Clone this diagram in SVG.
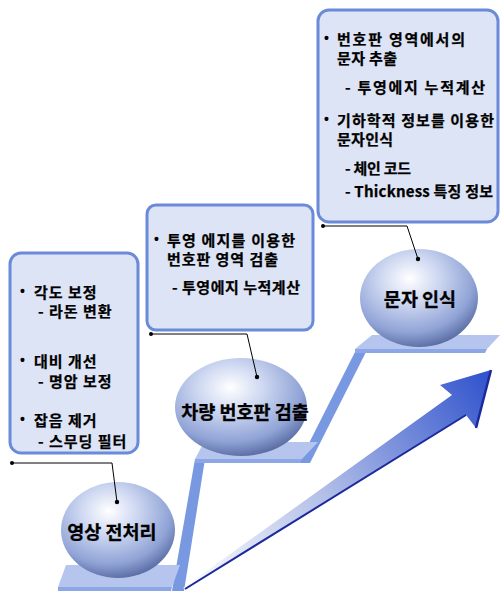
<svg xmlns="http://www.w3.org/2000/svg" width="500" height="592" viewBox="0 0 500 592">
<defs>
<radialGradient id="sph" cx="0.42" cy="0.32" r="0.72" fx="0.42" fy="0.3">
<stop offset="0" stop-color="#ffffff"/>
<stop offset="0.35" stop-color="#cdd7f1"/>
<stop offset="0.75" stop-color="#90a3d6"/>
<stop offset="1" stop-color="#52659c"/>
</radialGradient>
<linearGradient id="arr" gradientUnits="userSpaceOnUse" x1="183" y1="588" x2="490" y2="372">
<stop offset="0" stop-color="#ffffff"/>
<stop offset="0.45" stop-color="#b3bfe8"/>
<stop offset="1" stop-color="#2f52cc"/>
</linearGradient>
<style>
.plat{fill:#b6c5ee}
.edge{fill:#8ca6e6}
.riser{fill:#7898e2}
.box{fill:#dde4f5;stroke:#6b8ad9;stroke-width:3}
.sph{fill:url(#sph)}
.t{font-family:"Noto Sans CJK KR","Noto Sans",sans-serif;font-weight:700;font-size:15px;fill:#000;stroke:#000;stroke-width:0.25}
.ls{letter-spacing:1px}
.b{font-family:"Liberation Sans",sans-serif;font-weight:700;font-size:14px;fill:#000}
.big{font-size:18.5px;text-anchor:middle;stroke-width:0.3}
.con{fill:none;stroke:#000;stroke-width:1}
.dot{fill:#000}
</style>
</defs>

<g id="stairs">
<polygon class="riser" points="172,591 184,591 205,459 195,459"/>
<polygon class="riser" points="299,463 310,463 367,350 356,350"/>
<polygon class="plat" points="66,565 180,565 172,587 58,587"/>
<polygon class="edge" points="58,587 172,587 171,591 58,591"/>
<polygon class="plat" points="204,442 318,442 302,459 195,459"/>
<polygon class="edge" points="195,459 302,459 300,463 195,463"/>
<polygon class="plat" points="372,335 500,335 487,349 355,349"/>
<polygon class="edge" points="355,349 487,349 485,353 355,353"/>
</g>

<g id="arrow">
<polygon points="183,588 452,395 440,385 491,370 476,428 466,415 186,589" fill="url(#arr)"/>
<polyline points="185,589 466,415" fill="none" stroke="#1c2a9c" stroke-width="2"/>
<polyline points="476,428 491,370" fill="none" stroke="#1c2a9c" stroke-width="2.5"/>
</g>

<g id="node-preprocess">
<ellipse class="sph" cx="118" cy="530" rx="57" ry="48"/>
<text class="t big" x="112" y="539">영상 전처리</text>
</g>

<g id="node-plate">
<ellipse class="sph" cx="241" cy="407" rx="66" ry="49"/>
<text class="t big" x="245" y="419">차량 번호판 검출</text>
</g>

<g id="node-char">
<ellipse class="sph" cx="419" cy="298" rx="59" ry="49"/>
<text class="t big" x="420" y="306">문자 인식</text>
</g>

<g id="box-preprocess">
<rect class="box" x="10" y="253" width="128" height="200" rx="11"/>
<text class="b" x="20" y="296">•</text><text class="t ls" x="34" y="298">각도 보정</text>
<text class="t ls" x="38" y="317">- 라돈 변환</text>
<text class="b" x="20" y="365">•</text><text class="t ls" x="34" y="367">대비 개선</text>
<text class="t ls" x="38" y="387">- 명암 보정</text>
<text class="b" x="20" y="424">•</text><text class="t ls" x="34" y="426">잡음 제거</text>
<text class="t ls" x="38" y="447">- 스무딩 필터</text>
</g>

<g id="box-plate">
<rect class="box" x="147" y="205" width="166" height="125" rx="9"/>
<text class="b" x="154" y="244">•</text><text class="t" x="167" y="246" textLength="128" lengthAdjust="spacing">투영 에지를 이용한</text>
<text class="t" x="167" y="265" textLength="111" lengthAdjust="spacing">번호판 영역 검출</text>
<text class="t" x="172" y="293" textLength="128" lengthAdjust="spacing">- 투영에지 누적계산</text>
</g>

<g id="box-char">
<rect class="box" x="318" y="10" width="180" height="212" rx="11"/>
<text class="b" x="324" y="43">•</text><text class="t" x="337" y="45" textLength="128" lengthAdjust="spacing">번호판 영역에서의</text>
<text class="t" x="337" y="64" textLength="60" lengthAdjust="spacing">문자 추출</text>
<text class="t" x="345" y="93" textLength="140" lengthAdjust="spacing">- 투영에지 누적계산</text>
<text class="b" x="324" y="124">•</text><text class="t" x="337" y="126" textLength="157" lengthAdjust="spacing">기하학적 정보를 이용한</text>
<text class="t" x="337" y="145" textLength="56" lengthAdjust="spacing">문자인식</text>
<text class="t" x="345" y="174" textLength="66" lengthAdjust="spacing">- 체인 코드</text>
<text class="t" x="345" y="197" textLength="148" lengthAdjust="spacing">- Thickness 특징 정보</text>
</g>

<g id="connectors">
<polyline class="con" points="12,463 112,463 117,502"/>
<circle class="dot" cx="12" cy="463" r="2"/>
<circle class="dot" cx="117" cy="502" r="2.2"/>
<polyline class="con" points="151,334 247,334 257,377"/>
<circle class="dot" cx="151" cy="334" r="2"/>
<circle class="dot" cx="257" cy="377" r="2.2"/>
<polyline class="con" points="323,226 407,226 418,259"/>
<circle class="dot" cx="323" cy="226" r="2"/>
<circle class="dot" cx="418" cy="259" r="2.2"/>
</g>
</svg>
